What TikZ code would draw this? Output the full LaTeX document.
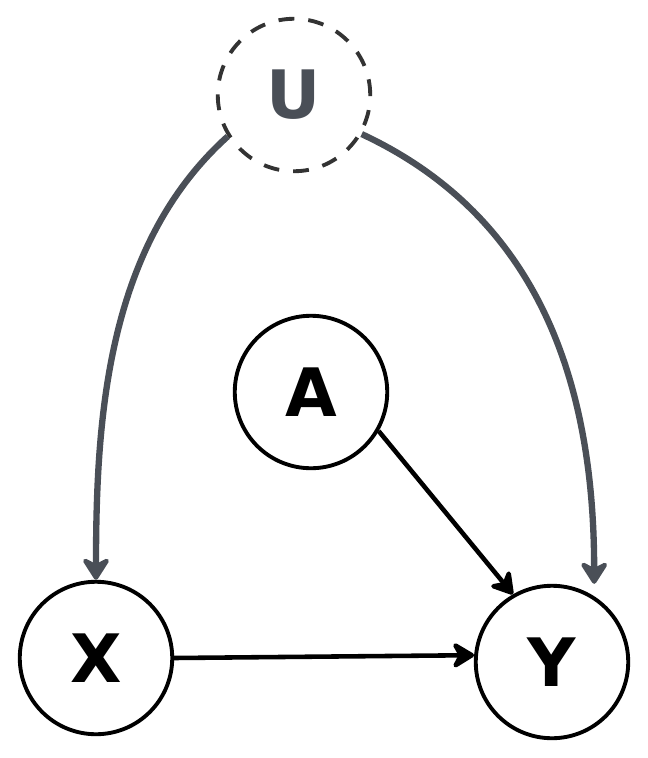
\documentclass[tikz,border=0pt]{standalone}
\usepackage{fontspec}
\setsansfont{DejaVu Sans}
\usetikzlibrary{arrows.meta}
\definecolor{slate}{HTML}{4A4F57}
\tikzset{
  var/.style={draw, circle, line width=2.2pt, minimum size=3.05cm, inner sep=0pt,
    font=\sffamily\bfseries\fontsize{38}{38}\selectfont},
  latent/.style={var, dashed, dash pattern=on 9pt off 8pt, draw=black!80, text=slate},
  causal/.style={->, >={Stealth[length=15pt, width=18pt, round]}, line width=2.6pt},
  hidden/.style={->, >={Stealth[length=15pt, width=19pt, round]}, line width=3.6pt, draw=slate}
}
\begin{document}
\begin{tikzpicture}[x=0.02cm, y=0.02cm]
  \useasboundingbox (0,0) rectangle (648,-758);
  \node[latent] (u) at (294,-95) {U};
  \node[var] (a) at (311,-392) {A};
  \node[var] (x) at (96,-658) {X};
  \node[var] (y) at (552,-662) {Y};
  \draw[hidden] (u.212) to[out=222, in=90, looseness=0.9] (x.north);
  \draw[hidden] (u.-30) to[out=-25, in=90, looseness=1] ([xshift=24]y.north);
  \draw[causal] (a.-30) -- (y.120);
  \draw[causal] (x.east) -- (y.175);
\end{tikzpicture}
\end{document}
